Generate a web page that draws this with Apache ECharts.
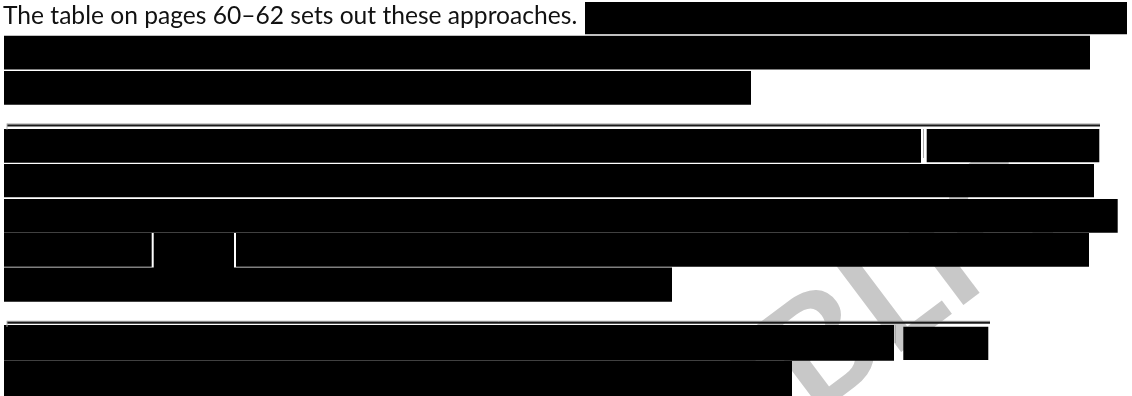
<!DOCTYPE html>
<html>
<head>
<meta charset="utf-8">
<script src="https://cdn.jsdelivr.net/npm/echarts@6/dist/echarts.min.js"></script>
<style>
  html, body { margin: 0; padding: 0; background: #fff; }
  #page { width: 1132px; height: 396px; }
</style>
</head>
<body>
<div id="page"></div>
<script>
// visible sentence at the top of the page
const introText = 'The table on pages 60–62 sets out these approaches.'
const watermarkText = 'PUBLIC'

// redaction boxes: [left, right, top, bottom] in page pixels
const redactions = [
  [585, 1127, 2, 34.3],
  [4, 1090, 35.7, 69.5],
  [4, 751, 71, 104.7],
  [4, 921, 129, 162.7],
  [926.7, 1099.3, 129, 162.3],
  [4, 1094, 164, 197.3],
  [4, 1117.7, 199, 232.7],
  [4, 151.7, 233, 266.7],
  [153.7, 234, 233, 268],
  [236, 1089, 233, 266.7],
  [4, 672, 267.5, 301.7],
  [4, 894, 325, 360.7],
  [903.3, 988.3, 326.7, 360],
  [4, 792, 361, 396]
]

// horizontal rules: [left, right, y]
const rules = [
  [7, 1100, 125.5],
  [7, 990, 322.8]
]

// faint edit marks left beside some boxes: [x, top, bottom]
const editMarks = [
  [923.5, 129, 158],
  [895.5, 325, 343]
]

const chart = echarts.init(document.getElementById('page'), null, { renderer: 'canvas' })

const option = {
  animation: false,
  backgroundColor: '#ffffff',
  grid: { left: 0, right: 0, top: 0, bottom: 0 },
  xAxis: { type: 'value', min: 0, max: 1132, show: false },
  yAxis: { type: 'value', min: 0, max: 396, inverse: true, show: false },
  graphic: [
    {
      type: 'text',
      z: 0,
      x: 830,
      y: 345,
      rotation: (37 * Math.PI) / 180,
      style: {
        text: watermarkText,
        fill: '#c8c8c8',
        font: 'bold 150px Lato',
        align: 'center',
        verticalAlign: 'middle',
      },
    },
    {
      type: 'text',
      z: 10,
      x: 3,
      y: 4,
      style: {
        text: introText,
        fill: '#111111',
        font: '24.6px Lato',
        verticalAlign: 'top',
      },
    },
  ],
  series: [
    {
      type: 'custom',
      z: 5,
      renderItem: function (params, api) {
        const p0 = api.coord([api.value(0), api.value(2)])
        const p1 = api.coord([api.value(1), api.value(3)])
        return {
          type: 'rect',
          shape: { x: p0[0], y: p0[1], width: p1[0] - p0[0], height: p1[1] - p0[1] },
          style: { fill: '#000000' },
        }
      },
      data: redactions,
    },
    {
      type: 'custom',
      z: 5,
      renderItem: function (params, api) {
        const a = api.coord([api.value(0), api.value(2)])
        const b = api.coord([api.value(1), api.value(2)])
        return {
          type: 'group',
          children: [
            {
              type: 'line',
              shape: { x1: a[0], y1: a[1] - 1.5, x2: b[0], y2: b[1] - 1.5 },
              style: { stroke: '#9a9a9a', lineWidth: 1 },
            },
            {
              type: 'line',
              shape: { x1: a[0], y1: a[1], x2: b[0], y2: b[1] },
              style: { stroke: '#1a1a1a', lineWidth: 2 },
            },
            {
              type: 'line',
              shape: { x1: a[0], y1: a[1] - 2, x2: a[0], y2: a[1] + 4 },
              style: { stroke: '#b0b0b0', lineWidth: 1 },
            },
          ],
        }
      },
      data: rules,
    },
    {
      type: 'custom',
      z: 4,
      renderItem: function (params, api) {
        const a = api.coord([api.value(0), api.value(1)])
        const b = api.coord([api.value(0), api.value(2)])
        return {
          type: 'line',
          shape: { x1: a[0], y1: a[1], x2: b[0], y2: b[1] },
          style: { stroke: '#a8a8a8', lineWidth: 1 },
        }
      },
      data: editMarks,
    },
  ],
}

chart.setOption(option)
</script>
</body>
</html>
